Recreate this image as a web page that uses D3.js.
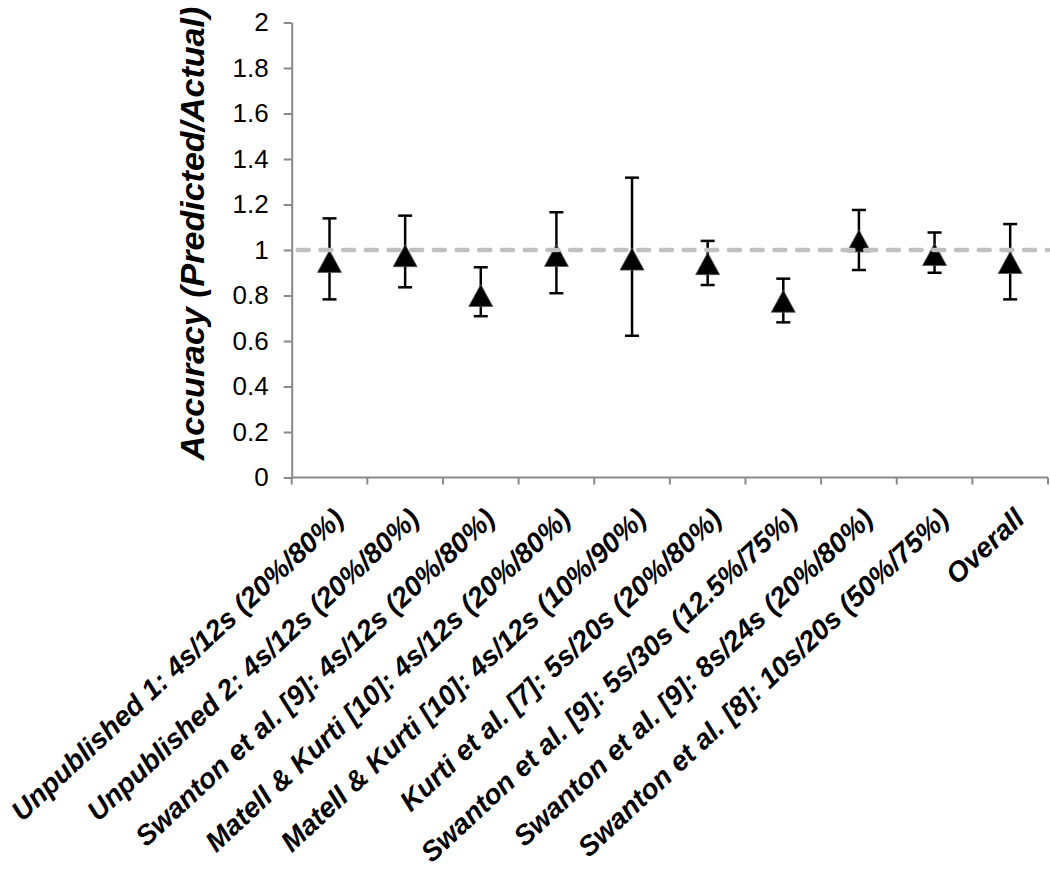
<!DOCTYPE html>
<html>
<head>
<meta charset="utf-8">
<script src="https://cdn.jsdelivr.net/npm/d3@7"></script>
<style>
  body { margin: 0; background: #fff; }
  svg { display: block; font-family: "Liberation Sans", Arial, sans-serif; }
</style>
</head>
<body>
<div class="chart"></div>
<script>
// data
var categories = [
  "Unpublished 1: 4s/12s (20%/80%)",
  "Unpublished 2: 4s/12s (20%/80%)",
  "Swanton et al. [9]: 4s/12s (20%/80%)",
  "Matell & Kurti [10]: 4s/12s (20%/80%)",
  "Matell & Kurti [10]: 4s/12s (10%/90%)",
  "Kurti et al. [7]: 5s/20s (20%/80%)",
  "Swanton et al. [9]: 5s/30s (12.5%/75%)",
  "Swanton et al. [9]: 8s/24s (20%/80%)",
  "Swanton et al. [8]: 10s/20s (50%/75%)",
  "Overall"
];
var accuracy = [0.95, 0.975, 0.80, 0.976, 0.96, 0.94, 0.775, 1.04, 0.98, 0.945];
var errLow   = [0.783, 0.836, 0.709, 0.810, 0.623, 0.846, 0.682, 0.912, 0.900, 0.783];
var errHigh  = [1.139, 1.151, 0.924, 1.166, 1.318, 1.040, 0.874, 1.176, 1.077, 1.114];
var yTicks = [0, 0.2, 0.4, 0.6, 0.8, 1, 1.2, 1.4, 1.6, 1.8, 2];
var yTickLabels = ["0", "0.2", "0.4", "0.6", "0.8", "1", "1.2", "1.4", "1.6", "1.8", "2"];
var refLine = 1;

var width = 1050, height = 880;
var plotLeft = 291.7, plotRight = 1048, plotTop = 22.5, plotBottom = 477.5;
var axisColor = "#898989";

var svg = d3.select(".chart").append("svg")
    .attr("width", width)
    .attr("height", height);

var x = d3.scaleBand().domain(categories).range([plotLeft, plotRight]);
var y = d3.scaleLinear().domain([0, 2]).range([plotBottom, plotTop]);

//y axis
var yAxis = svg.append("g")
    .attr("transform", "translate(" + plotLeft + ",0)")
    .call(d3.axisLeft(y)
        .tickValues(yTicks)
        .tickSize(8)
        .tickSizeOuter(0)
        .tickPadding(15)
        .tickFormat(function (d, i) { return yTickLabels[i]; }));
yAxis.select(".domain").attr("stroke", axisColor).attr("stroke-width", 2);
yAxis.selectAll(".tick line").attr("stroke", axisColor).attr("stroke-width", 2);
yAxis.selectAll(".tick text")
    .attr("fill", "#000")
    .attr("font-size", 26)
    .attr("font-family", "Liberation Sans, Arial, sans-serif");

//x axis line and ticks at band edges
svg.append("line")
    .attr("x1", plotLeft).attr("x2", plotRight)
    .attr("y1", y(0)).attr("y2", y(0))
    .attr("stroke", axisColor).attr("stroke-width", 2);
var edges = categories.map(function (d) { return x(d); }).concat([plotRight]);
svg.selectAll(".xtick")
    .data(edges)
    .enter().append("line")
    .attr("class", "xtick")
    .attr("x1", function (d) { return d; }).attr("x2", function (d) { return d; })
    .attr("y1", y(0)).attr("y2", y(0) + 7)
    .attr("stroke", axisColor).attr("stroke-width", 2);

//x labels
svg.selectAll(".xlabel")
    .data(categories)
    .enter().append("text")
    .attr("class", "xlabel")
    .attr("transform", function (d) {
        return "translate(" + (x(d) + x.bandwidth() / 2 + 16) + ",521) rotate(-43)";
    })
    .attr("text-anchor", "end")
    .attr("font-size", 28)
    .attr("font-weight", "bold")
    .attr("font-style", "italic")
    .text(function (d) { return d; });

//y title
svg.append("text")
    .attr("transform", "translate(204,233.5) rotate(-90)")
    .attr("text-anchor", "middle")
    .attr("font-size", 34)
    .attr("font-weight", "bold")
    .attr("font-style", "italic")
    .text("Accuracy (Predicted/Actual)");

//error bars
var pts = categories.map(function (c, i) {
    return { cat: c, v: accuracy[i], lo: errLow[i], hi: errHigh[i] };
});
var g = svg.selectAll(".pt")
    .data(pts)
    .enter().append("g")
    .attr("class", "pt")
    .attr("transform", function (d) { return "translate(" + (x(d.cat) + x.bandwidth() / 2) + ",0)"; });

g.append("line")
    .attr("y1", function (d) { return y(d.lo); })
    .attr("y2", function (d) { return y(d.hi); })
    .attr("stroke", "#000").attr("stroke-width", 2.5);
g.append("line")
    .attr("x1", -7).attr("x2", 7)
    .attr("y1", function (d) { return y(d.hi); })
    .attr("y2", function (d) { return y(d.hi); })
    .attr("stroke", "#000").attr("stroke-width", 2.5);
g.append("line")
    .attr("x1", -7).attr("x2", 7)
    .attr("y1", function (d) { return y(d.lo); })
    .attr("y2", function (d) { return y(d.lo); })
    .attr("stroke", "#000").attr("stroke-width", 2.5);

//triangle markers
g.append("path")
    .attr("d", function (d) {
        var cy = y(d.v), hw = 12, hh = 11;
        return "M0," + (cy - hh) + "L" + hw + "," + (cy + hh) + "L" + (-hw) + "," + (cy + hh) + "Z";
    })
    .attr("fill", "#000")
    .attr("stroke", "#555")
    .attr("stroke-width", 0.8);

//reference line at 1
svg.append("line")
    .attr("x1", plotLeft + 6).attr("x2", plotRight)
    .attr("y1", y(refLine)).attr("y2", y(refLine))
    .attr("stroke", "#c0c0c0")
    .attr("stroke-width", 4.5)
    .attr("stroke-linecap", "round")
    .attr("stroke-dasharray", "11,11.7");
</script>
</body>
</html>
